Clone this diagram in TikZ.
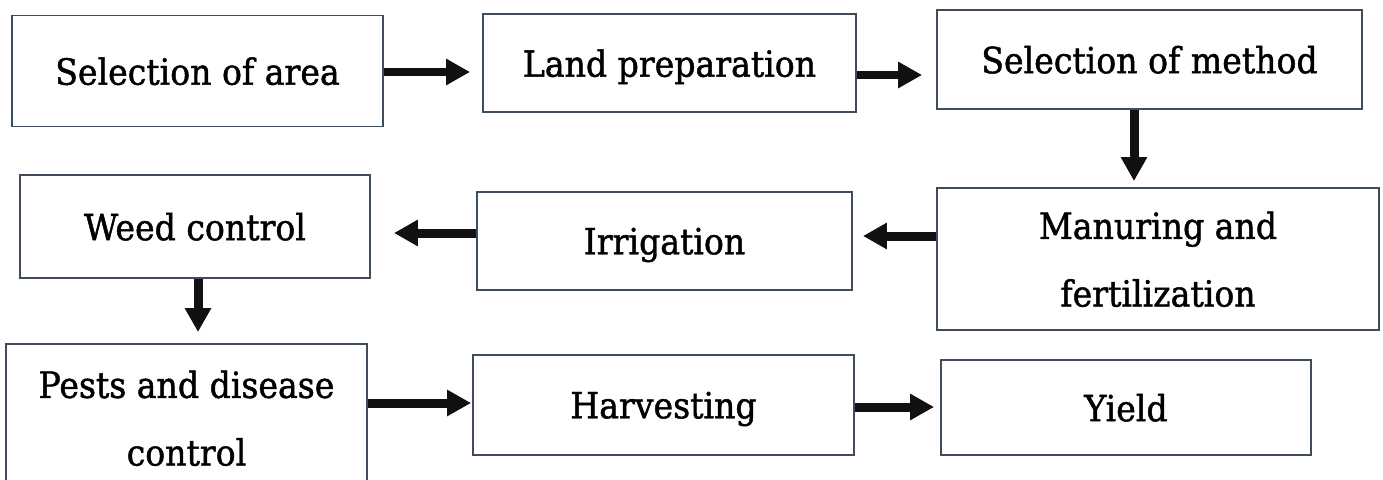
\documentclass[tikz,border=0pt]{standalone}
\usepackage{fontspec}
\setmainfont{DejaVu Serif}
\newfontfamily\stepfont{DejaVu Serif}[FakeBold=1.3,FakeStretch=0.92]
\usetikzlibrary{arrows.meta}
\definecolor{boxLine}{HTML}{3E4C5C}
\definecolor{arrowInk}{HTML}{111111}

\begin{document}
\begin{tikzpicture}
[x=0.02cm,y=-0.02cm,
  stepBox/.style={shape=rectangle,draw=boxLine,line width=1.1pt,inner sep=0pt,
    align=center,text depth=0pt,font=\stepfont\fontsize{20.5}{38.5}\selectfont},
  flowArrow/.style={-{Triangle[length=0.48cm,width=0.5cm]},line width=0.18cm,draw=arrowInk}]
\useasboundingbox (0,0) rectangle (1383,480);
%% boxes
\foreach \nodename/\x/\y/\w/\h/\txt in {
  area/197.5/71/7.42/2.22/{Selection of area},
  land/669.5/63/7.46/1.96/{Land preparation},
  method/1149.5/59.5/8.5/1.98/{Selection of method},
  manure/1158/259/8.84/2.84/{Manuring and\\fertilization},
  irrig/664.5/241/7.5/1.96/{Irrigation},
  weed/195/226.5/7.0/2.06/{Weed control},
  pests/186.5/418/7.22/2.96/{Pests and disease\\control},
  harvest/663.5/405/7.62/2.0/{Harvesting},
  yield/1126/407.5/7.4/1.9/{Yield}}
{
  \node (\nodename) at (\x,\y) [stepBox,minimum width=\w cm,minimum height=\h cm] {\txt};
}
%% arrows to the right
\foreach \startnode/\endnode/\ypos/\gap in {
  area/land/72/12, land/method/75/14, pests/harvest/403/1, harvest/yield/407/6}
{
  \draw[flowArrow,shorten >=0.02cm*\gap] (\startnode.east |- 0,\ypos) -- (\endnode.west |- 0,\ypos);
}
%% arrows to the left
\foreach \startnode/\endnode/\ypos/\gap in {manure/irrig/236/10, irrig/weed/233/23}
{
  \draw[flowArrow,shorten >=0.02cm*\gap] (\startnode.west |- 0,\ypos) -- (\endnode.east |- 0,\ypos);
}
%% arrows down
\foreach \startnode/\endnode/\xpos/\gap in {method/manure/1134/6, weed/pests/198/11}
{
  \draw[flowArrow,shorten >=0.02cm*\gap] (\startnode.south -| \xpos,0) -- (\endnode.north -| \xpos,0);
}
\end{tikzpicture}
\end{document}
